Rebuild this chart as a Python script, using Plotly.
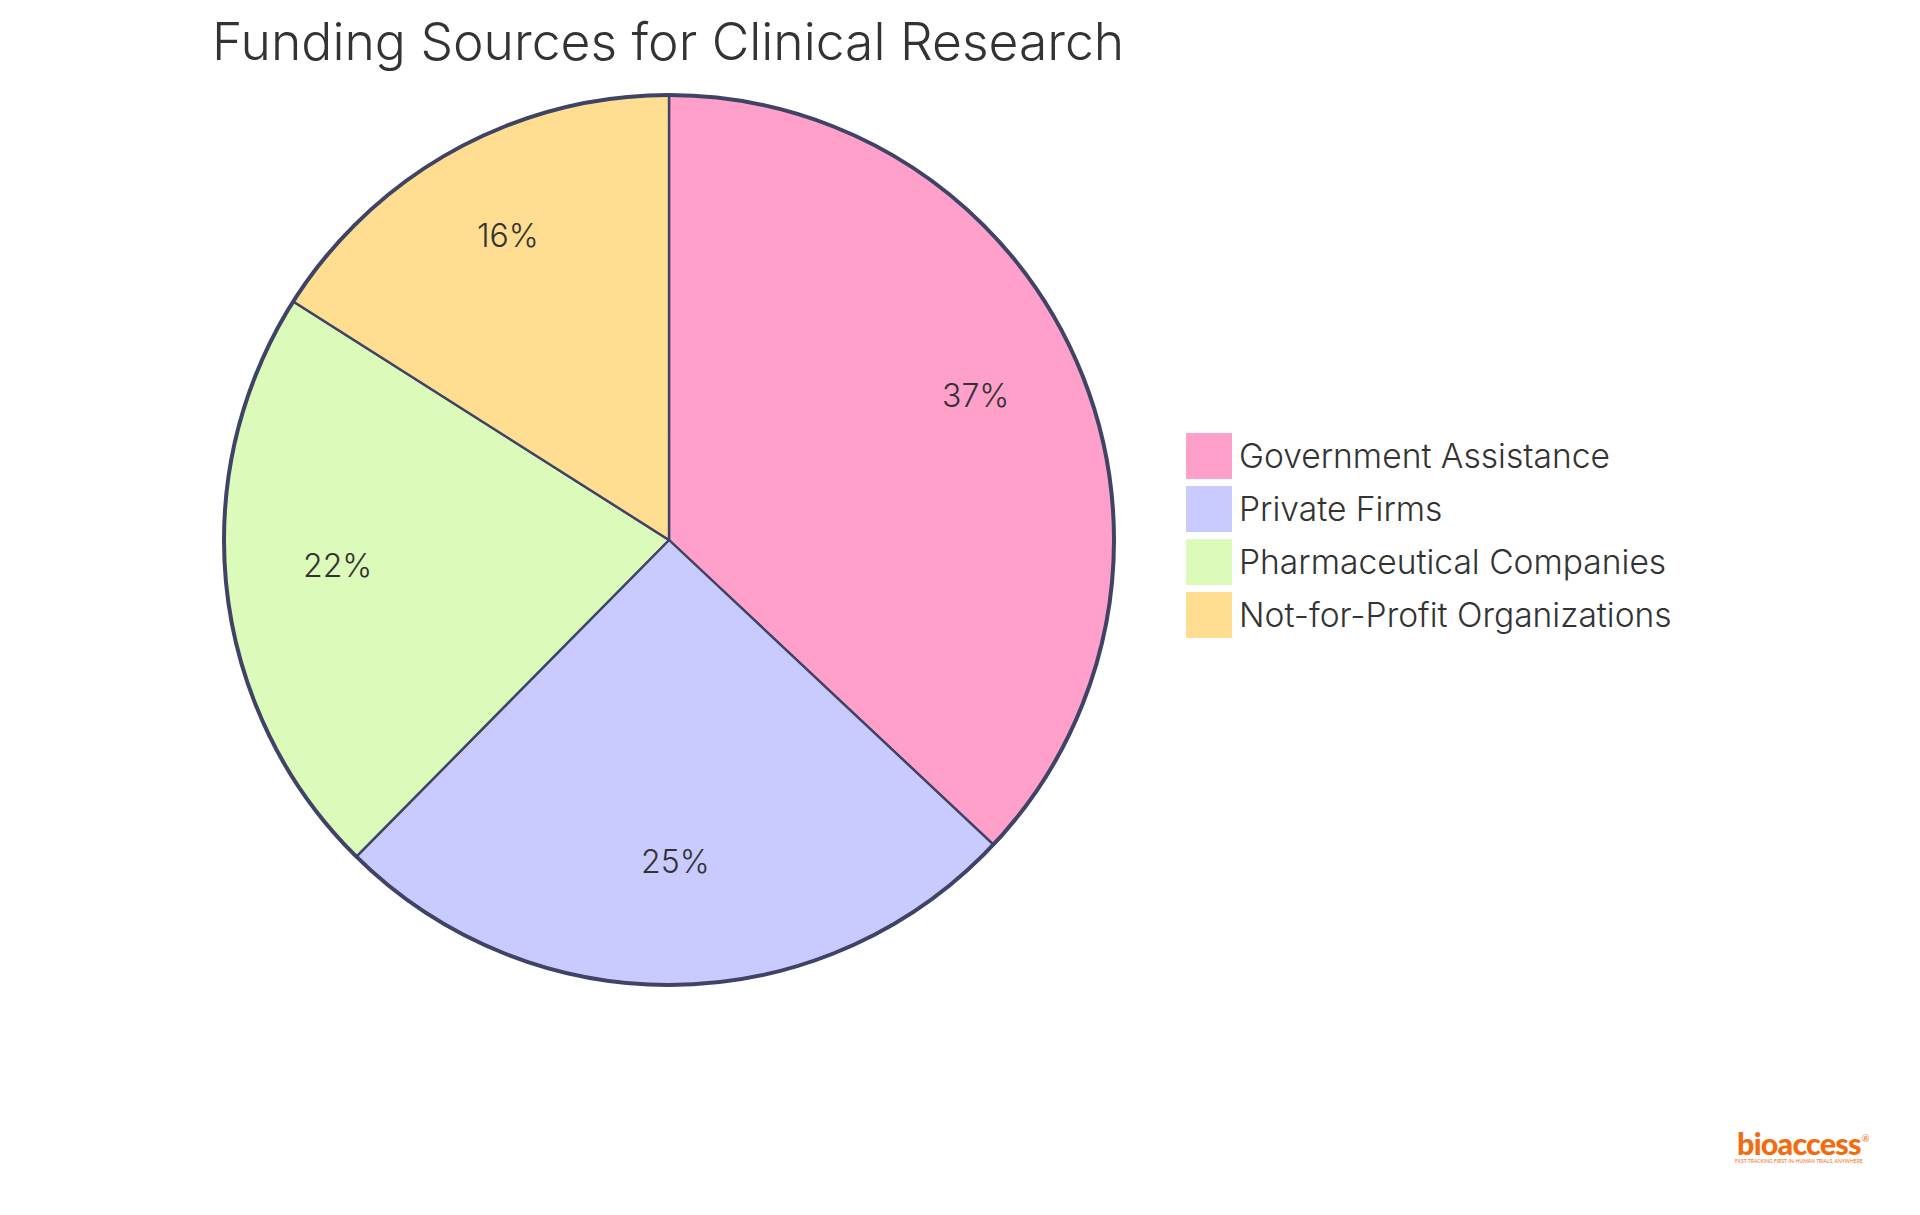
import math
import plotly.graph_objects as go

W, H = 1920, 1215

# --- data ---
categories = ["Government Assistance", "Private Firms", "Pharmaceutical Companies", "Not-for-Profit Organizations"]
shares = [37, 25.4, 21.6, 16]
slice_colors = ["#FFA0CB", "#C9CBFF", "#DCFABA", "#FFDD91"]
title_text = "Funding Sources for Clinical Research"
logo_text = "bioaccess"
logo_tagline = "FAST-TRACKING FIRST-IN-HUMAN TRIALS, ANYWHERE"

INK = "#333333"
STROKE = "#3F4366"
ORANGE = "#F26B0F"
FONT = "Inter"

# pie box in page pixels
CX, CY, R = 669, 540, 445


def px(x):
    return x / W


def py(y):
    return 1 - y / H


pie_domain = dict(x=[px(CX - R), px(CX + R)], y=[py(CY + R), py(CY - R)])

fig = go.Figure()
fig.add_trace(go.Pie(
    labels=categories, values=shares, sort=False, direction="clockwise", rotation=0,
    domain=pie_domain, textinfo="none",
    marker=dict(colors=slice_colors, line=dict(color=STROKE, width=2.4)),
    showlegend=False,
))
# thicker outer ring
fig.add_trace(go.Pie(
    values=[1], sort=False, domain=pie_domain, textinfo="none", hoverinfo="skip", showlegend=False,
    marker=dict(colors=["rgba(0,0,0,0)"], line=dict(color=STROKE, width=4)),
))

shapes = []
annotations = []

# percent labels sit at 3/4 of the radius, slightly above the mid angle point
total = sum(shares)
running = 0
for share in shares:
    mid = (running + share / 2) / total * 2 * math.pi
    running += share
    annotations.append(dict(text=f"{round(share / total * 100)}%", xref="paper", yref="paper",
                            x=px(CX + 0.75 * R * math.sin(mid)), y=py(CY - 0.75 * R * math.cos(mid) - 12),
                            xanchor="center", yanchor="middle", showarrow=False,
                            font=dict(family=FONT, size=32, color=INK, weight=300)))

# legend with the big swatches
for i, (name, col) in enumerate(zip(categories, slice_colors)):
    top = 433 + i * 53
    shapes.append(dict(type="rect", xref="paper", yref="paper", x0=px(1186), x1=px(1232), y0=py(top + 46), y1=py(top),
                       fillcolor=col, line=dict(width=0)))
    annotations.append(dict(text=name, xref="paper", yref="paper", x=px(1237), y=py(top + 22.5), xanchor="left", yanchor="middle",
                            showarrow=False, font=dict(family=FONT, size=33.6, color=INK, weight=300)))

annotations.append(dict(text=title_text, xref="paper", yref="paper", x=px(210), y=py(41), xanchor="left", yanchor="middle",
                        showarrow=False, font=dict(family=FONT, size=51.6, color=INK, weight=300)))

# logo, bottom right
logo_html = (f"<span style='font-size:30.5px;letter-spacing:-0.8px'>{logo_text}</span>"
             f"<br><span style='font-size:5px;font-weight:400'>{logo_tagline}</span>")
annotations.append(dict(text=logo_html, xref="paper", yref="paper", x=px(1799), y=py(1144), xanchor="center", yanchor="middle",
                        showarrow=False, font=dict(family="Lato", size=6, color=ORANGE, weight=900)))
annotations.append(dict(text="®", xref="paper", yref="paper", x=px(1866), y=py(1138), xanchor="center", yanchor="middle",
                        showarrow=False, font=dict(family="Lato", size=9, color=ORANGE)))

fig.update_layout(
    width=W, height=H, margin=dict(l=0, r=0, t=0, b=0, pad=0),
    paper_bgcolor="white", plot_bgcolor="white",
    showlegend=False, shapes=shapes, annotations=annotations,
)

fig.write_html("out.html", config=dict(displayModeBar=False), post_script="document.body.style.margin='0';")
